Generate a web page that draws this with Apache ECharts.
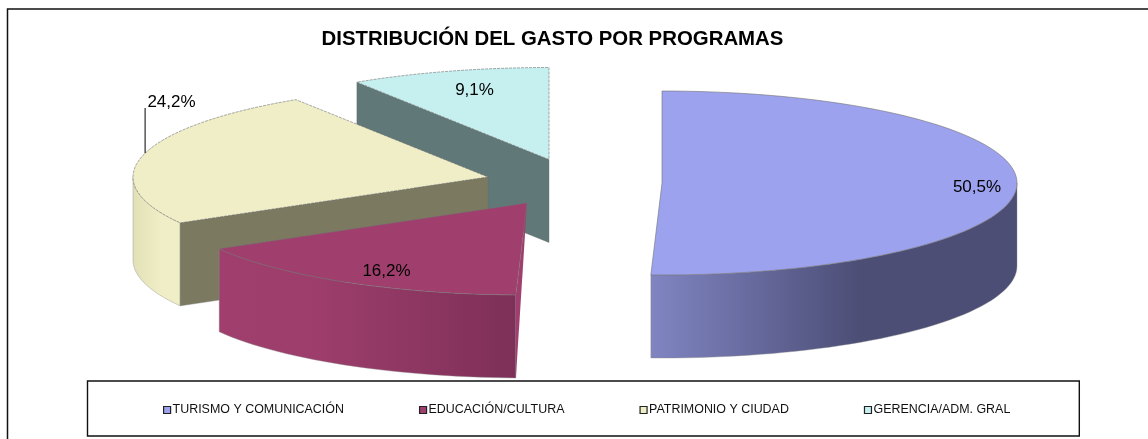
<!DOCTYPE html>
<html>
<head>
<meta charset="utf-8">
<title>Distribución del gasto por programas</title>
<style>
  html, body { margin: 0; padding: 0; background: #fff; overflow: hidden; }
  #chart { width: 1148px; height: 439px; }
</style>
<script src="https://cdn.jsdelivr.net/npm/echarts@6/dist/echarts.min.js"></script>
</head>
<body>
<div id="chart"></div>
<script>
// datos
var categories = ['TURISMO Y COMUNICACIÓN', 'EDUCACIÓN/CULTURA', 'PATRIMONIO Y CIUDAD', 'GERENCIA/ADM. GRAL'];
var values = [50.5, 16.2, 24.2, 9.1];
var valueLabels = ['50,5%', '16,2%', '24,2%', '9,1%'];

// colores: tapa, cara de corte, degradado del lateral
var topColors = ['#9da2ef', '#a03f6e', '#f0eec6', '#c6f0f0'];
var cutColors = [null, '#a03f6e', '#7b7a60', '#607878'];
var sideStops = [
  [[0, '#8085c2'], [0.57, '#4c4e76'], [1, '#4c4e76']],
  [[0, '#a03f6e'], [0.35, '#9c3d6b'], [1, '#7d3058']],
  [[0, '#e2e0b6'], [0.6, '#f0eec6'], [1, '#f0eec6']],
  [[0, '#c6f0f0'], [1, '#c6f0f0']]
];

// geometria de la tarta explotada (vertice de cada porcion, radios, grosor)
var apexes = [[662, 183], [527, 203], [488, 177], [549, 159.5]];
var rx = 355, ry = 92, depth = 83;
var labelOffsets = [[315, 4], [-140.5, 68], [-316.5, -75], [-74.5, -69.5]];
var zOrder = [3, 4, 2, 1];
var leaderAngle = 285; // punto del borde donde nace la guia de 24,2%
var leaderTopY = 108;

var total = values.reduce(function(a, b) { return a + b; }, 0);

function ptOn(apex, deg) {
  var t = deg * Math.PI / 180;
  return [apex[0] + rx * Math.sin(t), apex[1] - ry * Math.cos(t)];
}

function arcPoints(apex, a0, a1, dy) {
  var pts = [];
  var n = Math.max(2, Math.ceil(Math.abs(a1 - a0) / 2));
  for (var i = 0; i <= n; i++) {
    var p = ptOn(apex, a0 + (a1 - a0) * i / n);
    pts.push([p[0], p[1] + dy]);
  }
  return pts;
}

function makeRender(idx) {
  return function(params, api) {
    var before = 0;
    for (var i = 0; i < idx; i++) before += values[i];
    var a0 = before / total * 360;
    var a1 = a0 + api.value(0) / total * 360;
    var apex = apexes[idx];
    var children = [];

    // lateral curvo visible: parte frontal del arco (90..270)
    var s0 = Math.max(a0, 90), s1 = Math.min(a1, 270);
    if (s1 > s0) {
      var upper = arcPoints(apex, s0, s1, 0);
      var lower = arcPoints(apex, s1, s0, depth);
      // el degradado va de izquierda a derecha
      children.push({
        type: 'polygon',
        shape: { points: upper.concat(lower) },
        style: {
          fill: new echarts.graphic.LinearGradient(0, 0, 1, 0, sideStops[idx].map(function(s) {
            return { offset: s[0], color: s[1] };
          })),
          stroke: '#8a8a8a',
          lineWidth: 0.4
        }
      });
    }

    // cara de corte
    if (idx === 2 || idx === 3) {
      var p = ptOn(apex, a0);
      children.push({
        type: 'polygon',
        shape: { points: [p, apex, [apex[0], apex[1] + depth], [p[0], p[1] + depth]] },
        style: { fill: cutColors[idx], stroke: '#6a6a6a', lineWidth: 0.4 }
      });
    }
    if (idx === 1) {
      var q = ptOn(apex, a0);
      children.push({
        type: 'polygon',
        shape: { points: [apex, q, [q[0], q[1] + depth]] },
        style: { fill: cutColors[idx] }
      });
    }

    // tapa
    var topPts = [apex].concat(arcPoints(apex, a0, a1, 0));
    children.push({
      type: 'polygon',
      shape: { points: topPts },
      style: {
        fill: topColors[idx],
        stroke: '#707070',
        lineWidth: 0.6,
        lineDash: idx === 0 ? null : [3, 1]
      }
    });

    // guia de 24,2%
    if (idx === 2) {
      var lp = ptOn(apex, leaderAngle);
      children.push({
        type: 'line',
        shape: { x1: lp[0], y1: lp[1], x2: lp[0], y2: leaderTopY },
        style: { stroke: '#000', lineWidth: 1 }
      });
    }

    children.push({
      type: 'text',
      style: {
        text: valueLabels[idx],
        x: apex[0] + labelOffsets[idx][0],
        y: apex[1] + labelOffsets[idx][1],
        align: 'center',
        verticalAlign: 'middle',
        fill: '#000',
        font: '17px "Liberation Sans", Arial, sans-serif'
      }
    });

    return { type: 'group', children: children };
  };
}

var chart = echarts.init(document.getElementById('chart'), null, { renderer: 'canvas' });

var series = categories.map(function(name, i) {
  return {
    type: 'custom',
    name: name,
    coordinateSystem: 'none',
    z: zOrder[i],
    silent: true,
    animation: false,
    itemStyle: { color: topColors[i] },
    data: [[values[i]]],
    encode: { value: 0 },
    renderItem: makeRender(i)
  };
});

chart.setOption({
  animation: false,
  backgroundColor: '#fff',
  title: {
    text: 'DISTRIBUCIÓN DEL GASTO POR PROGRAMAS',
    left: 552.5,
    top: 29,
    textAlign: 'center',
    padding: 0,
    textStyle: { fontFamily: '"Liberation Sans", Arial, sans-serif', fontSize: 20.4, fontWeight: 'bold', color: '#000' }
  },
  legend: {
    data: categories,
    orient: 'horizontal',
    left: 87.5,
    top: 381,
    padding: [23, 69, 20, 75.5],
    borderColor: '#111',
    borderWidth: 1.4,
    itemGap: 75,
    itemWidth: 7,
    itemHeight: 7,
    icon: 'rect',
    selectedMode: false,
    textStyle: { fontFamily: '"Liberation Sans", Arial, sans-serif', fontSize: 12.45, color: '#111', padding: [0, 0, 0, -3] },
    itemStyle: { borderColor: '#222', borderWidth: 1.2 }
  },
  graphic: [{
    type: 'rect',
    z: -1,
    silent: true,
    shape: { x: 7.5, y: 9, width: 1300, height: 600 },
    style: { fill: '#fff', stroke: '#111', lineWidth: 1.5 }
  }],
  series: series
});

window.addEventListener('resize', function() { chart.resize(); });
</script>
</body>
</html>
